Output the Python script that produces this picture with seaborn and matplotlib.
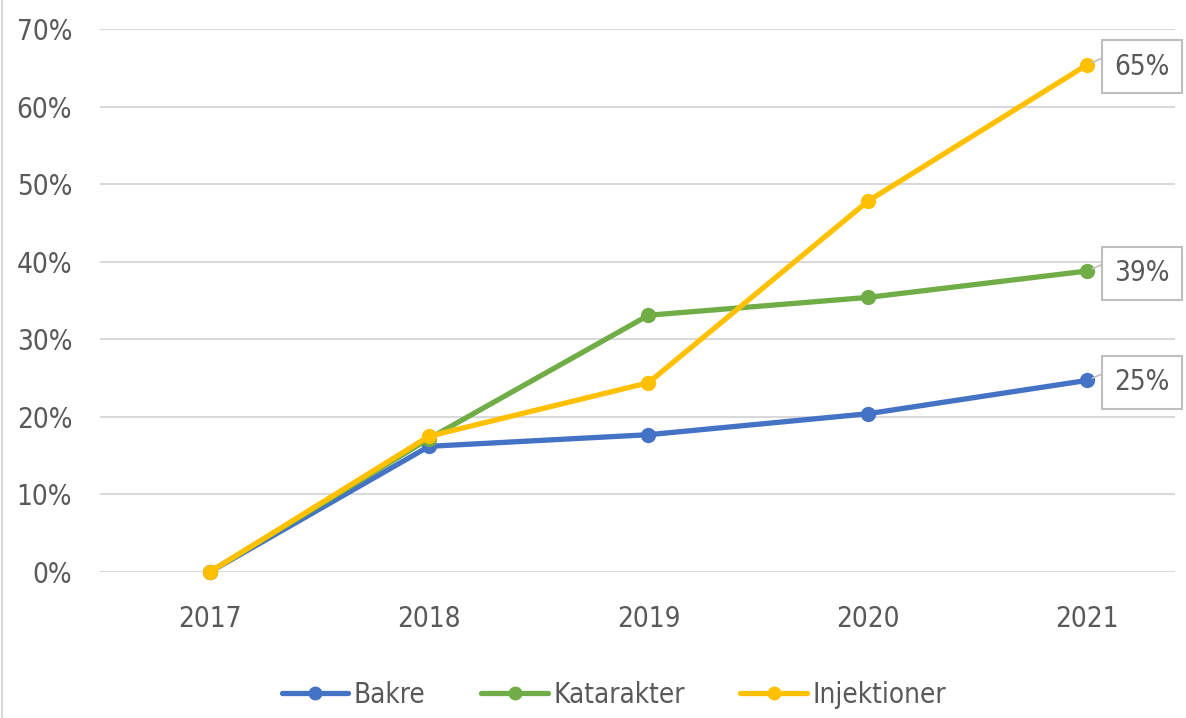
import matplotlib
matplotlib.use("Agg")
import matplotlib.pyplot as plt
from matplotlib.lines import Line2D
from matplotlib import font_manager
import pandas as pd
import seaborn as sns

# data (percent)
years = ["2017", "2018", "2019", "2020", "2021"]
bakre = [0, 16.2, 17.7, 20.4, 24.7]
katarakter = [0, 17.2, 33.1, 35.4, 38.8]
injektioner = [0, 17.5, 24.4, 47.8, 65.4]
series_names = ["Bakre", "Katarakter", "Injektioner"]
colors = ["#4472C4", "#70AD47", "#FFC000"]
yticks = [0, 10, 20, 30, 40, 50, 60, 70]

df = pd.DataFrame({
    "year": years * 3,
    "value": bakre + katarakter + injektioner,
    "series": [n for n in series_names for _ in years],
})

sns.set_theme(style="white")
plt.rcParams["font.family"] = ["DejaVu Sans"]
plt.rcParams["font.stretch"] = "condensed"
text_color = "#595959"
fs = 20
font = font_manager.FontProperties(family="DejaVu Sans", stretch="condensed", size=fs)

fig = plt.figure(figsize=(11.86, 7.18), dpi=100)
ax = fig.add_axes([100 / 1186, 1 - 572 / 718, 1075 / 1186, (572 - 29) / 718])

sns.lineplot(data=df, x="year", y="value", hue="series", palette=colors,
             hue_order=series_names, marker="o", markersize=11, linewidth=3.8,
             markeredgewidth=0, legend=False, ax=ax, clip_on=False, sort=False)

ax.set_xlim(-0.5, 4.4)
ax.set_ylim(0, 70)
ax.set_yticks(yticks)
ax.set_yticklabels([f"{t}%" for t in yticks])
ax.set_xlabel("")
ax.set_ylabel("")
ax.grid(axis="y", color="#D9D9D9", linewidth=1.5)
ax.set_axisbelow(True)
for s in ax.spines.values():
    s.set_visible(False)
ax.tick_params(axis="y", length=0, pad=20, labelcolor=text_color)
ax.tick_params(axis="x", length=0, pad=24, labelcolor=text_color)
for lab in ax.get_xticklabels() + ax.get_yticklabels():
    lab.set_fontproperties(font)

# end-of-line labels with boxes, leader to the box's upper-left corner
for vals in [injektioner, katarakter, bakre]:
    ax.annotate(f"{vals[-1]:.0f}%", xy=(4, vals[-1]), xytext=(55, -2),
                textcoords="offset pixels", ha="center", va="center",
                fontproperties=font, color=text_color,
                bbox=dict(boxstyle="square,pad=0.45", fc="white", ec="#BFBFBF", lw=1.5),
                arrowprops=dict(arrowstyle="-", color="#BFBFBF", lw=1.2,
                                shrinkA=0, shrinkB=4, relpos=(0, 1)))

handles = [Line2D([0], [0], color=c, lw=3.8, marker="o", markersize=9) for c in colors]
fig.legend(handles, series_names, loc="center", bbox_to_anchor=(614 / 1186, 1 - 695 / 718),
           ncol=3, frameon=False, prop=font, labelcolor=text_color,
           handlelength=2.4, handletextpad=0.2, columnspacing=2.0)

# thin chart-area border at the left edge
fig.add_artist(Line2D([0.002, 0.002], [0, 1], color="#D9D9D9", lw=1.5))

fig.savefig("out.png", dpi=100)
